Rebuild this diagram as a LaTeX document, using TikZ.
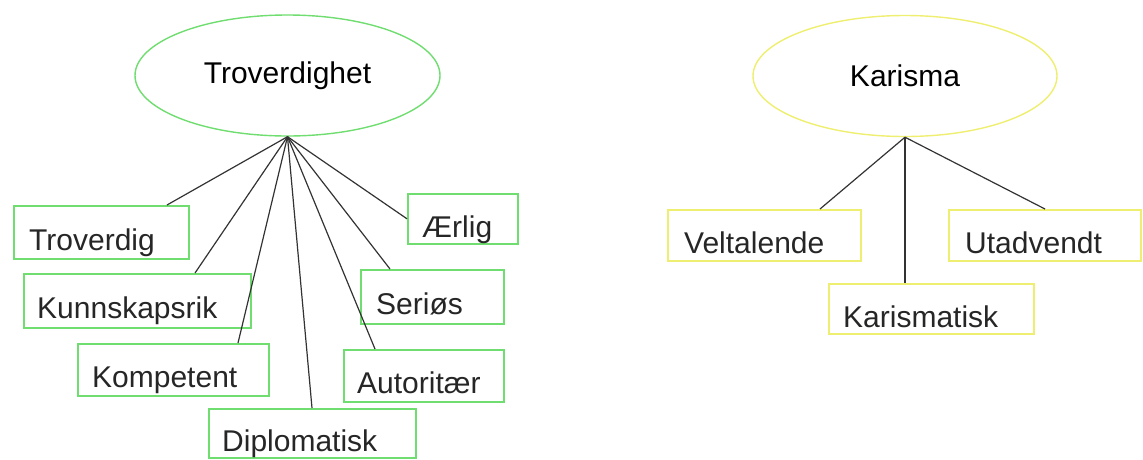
\documentclass[tikz,border=0pt]{standalone}
\usepackage{fontspec}
\setmainfont{Liberation Sans}
\usetikzlibrary{shapes.geometric}
\definecolor{gborder}{HTML}{6FDD6F}
\definecolor{yborder}{HTML}{EEEE70}
\definecolor{linkc}{HTML}{333333}
\tikzset{
  gbox/.style={draw=gborder, line width=1.6pt, inner sep=0pt},
  ybox/.style={draw=yborder, line width=1.6pt, inner sep=0pt},
  gell/.style={ellipse, draw=gborder, line width=1.4pt, inner sep=0pt, minimum width=305pt, minimum height=121pt, font=\fontsize{30}{36}\selectfont},
  yell/.style={ellipse, draw=yborder, line width=1.4pt, inner sep=0pt, minimum width=304pt, minimum height=121pt, font=\fontsize{30}{36}\selectfont},
  lbl/.style={anchor=base west, inner sep=0pt, font=\fontsize{30}{36}\selectfont, text=black!85},
  link/.style={draw=linkc, line width=1.2pt}
}
\newcommand{\boxat}[6]{%
  \node[#1, minimum width={(#5)-(#3)}, minimum height={(#6)-(#4)}, anchor=north west] (#2) at (#3,#4) {};}
\begin{document}
\begin{tikzpicture}[x=1pt, y=-1pt]
\useasboundingbox (0,0) rectangle (1143,459);
% roots
\node[gell] (tro) at (287.5,75.5) {Troverdighet};
\node[yell] (kar) at (905,76) {Karisma};
% green boxes
\boxat{gbox}{trov}{13}{205}{188}{258}
\boxat{gbox}{kunn}{23}{273}{250}{327}
\boxat{gbox}{komp}{77}{343}{268}{395}
\boxat{gbox}{dipl}{208}{408}{415}{457}
\boxat{gbox}{aerl}{407}{193}{517}{243}
\boxat{gbox}{seri}{360}{269}{503}{323}
\boxat{gbox}{auto}{343}{349}{503}{401}
% yellow boxes
\boxat{ybox}{velt}{667}{209}{860}{260}
\boxat{ybox}{kmat}{828}{283}{1033}{333}
\boxat{ybox}{utad}{948}{209}{1140}{260}
% labels
\node[lbl] (trovt) at (29,250) {Troverdig};
\node[lbl] (kunnt) at (37,318) {Kunnskapsrik};
\node[lbl] (kompt) at (92,387) {Kompetent};
\node[lbl] (diplt) at (222,451) {Diplomatisk};
\node[lbl] (aerlt) at (422,237) {Ærlig};
\node[lbl] (serit) at (376,314) {Seriøs};
\node[lbl] (autot) at (357,393) {Autoritær};
\node[lbl] (veltt) at (684,253) {Veltalende};
\node[lbl] (kmatt) at (843,327) {Karismatisk};
\node[lbl] (utadt) at (965,253) {Utadvendt};
% connectors
\draw[link] (tro.south) -- (167,0 |- trov.north);
\draw[link] (tro.south) -- (195,0 |- kunn.north);
\draw[link] (tro.south) -- (238,0 |- komp.north);
\draw[link] (tro.south) -- (312,0 |- dipl.north);
\draw[link] (tro.south) -- (375,0 |- auto.north);
\draw[link] (tro.south) -- (390,0 |- seri.north);
\draw[link] (tro.south) -- (aerl.west);
\draw[link] (kar.south) -- (820,0 |- velt.north);
\draw[link] (kar.south) -- (kar.south |- kmat.north);
\draw[link] (kar.south) -- (1045,0 |- utad.north);
\end{tikzpicture}
\end{document}
